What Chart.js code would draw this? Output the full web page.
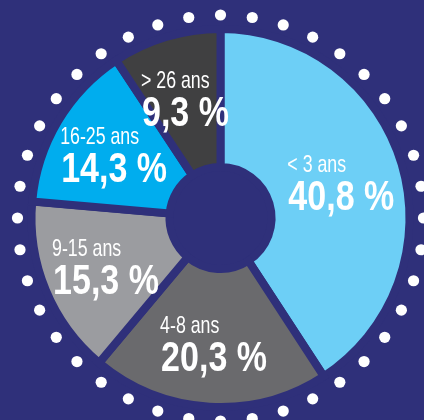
<!DOCTYPE html>
<html><head><meta charset="utf-8">
<script src="https://cdn.jsdelivr.net/npm/chart.js@4.4.1/dist/chart.umd.min.js"></script>
<style>
html,body{margin:0;padding:0;background:#2F307A;}
#wrap{width:424px;height:420px;position:relative;}
</style></head><body>
<div id="wrap"><canvas id="c"></canvas></div>
<script>
const categories = ['< 3 ans', '4-8 ans', '9-15 ans', '16-25 ans', '> 26 ans'];
const shares = [40.8, 20.3, 15.3, 14.3, 9.3];
const sliceColors = ['#6DCFF6', '#6A6A6D', '#9B9CA0', '#00ADEE', '#404041'];
const BG = '#2F307A';
const GAP = 8;
const DOT_COUNT = 40;

function fmt(v){ return v.toFixed(1).replace('.', ',') + ' %'; }

const ringDots = {
  id: 'ringDots',
  beforeDatasetsDraw(chart){
    const arc = chart.getDatasetMeta(0).data[0];
    if (!arc) return;
    const ctx = chart.ctx;
    const r = arc.outerRadius - GAP/2 + 18;
    ctx.save();
    ctx.fillStyle = '#FFFFFF';
    for (let i = 0; i < DOT_COUNT; i++){
      const a = -Math.PI/2 + i * 2*Math.PI/DOT_COUNT;
      ctx.beginPath();
      ctx.arc(arc.x + Math.cos(a)*r, arc.y + Math.sin(a)*r, 5.6, 0, 2*Math.PI);
      ctx.fill();
    }
    ctx.restore();
  }
};

function drawScaled(ctx, text, x, y, font, sx){
  ctx.save();
  ctx.font = font;
  ctx.translate(x, y);
  ctx.scale(sx, 1);
  ctx.fillText(text, 0, 0);
  ctx.restore();
}
function widthScaled(ctx, text, font, sx){
  ctx.save(); ctx.font = font; const w = ctx.measureText(text).width * sx; ctx.restore(); return w;
}

const sliceLabels = {
  id: 'sliceLabels',
  afterDatasetsDraw(chart){
    const ctx = chart.ctx;
    const meta = chart.getDatasetMeta(0);
    const smallFont = '24px "Liberation Sans", Arial, sans-serif';
    const bigFont = 'bold 42px "Liberation Sans", Arial, sans-serif';
    const sS = 0.74, sB = 0.81;
    ctx.save();
    ctx.fillStyle = '#FFFFFF';
    ctx.textAlign = 'left';
    ctx.textBaseline = 'alphabetic';
    meta.data.forEach((arc, i) => {
      const mid = (arc.startAngle + arc.endAngle) / 2;
      const R = (arc.innerRadius + arc.outerRadius) / 2 + 5;
      const cx = arc.x + Math.cos(mid) * R;
      const cy = arc.y + Math.sin(mid) * R;
      const t1 = categories[i];
      const t2 = fmt(shares[i]);
      const w = Math.max(widthScaled(ctx, t1, smallFont, sS), widthScaled(ctx, t2, bigFont, sB));
      const left = cx - w / 2;
      drawScaled(ctx, t1, left, cy - 10, smallFont, sS);
      drawScaled(ctx, t2, left + 1, cy + 28, bigFont, sB);
    });
    ctx.restore();
  }
};

new Chart(document.getElementById('c'), {
  type: 'doughnut',
  data: {
    labels: categories,
    datasets: [{
      data: shares,
      backgroundColor: sliceColors,
      borderColor: BG,
      borderWidth: GAP,
      borderAlign: 'center',
      borderJoinStyle: 'miter',
      hoverOffset: 0
    }]
  },
  options: {
    responsive: true,
    maintainAspectRatio: false,
    animation: false,
    events: [],
    cutout: '27%',
    rotation: 0,
    layout: { padding: { left: 27.5, right: 10.5, top: 25, bottom: 9 } },
    plugins: { legend: { display: false }, tooltip: { enabled: false } }
  },
  plugins: [ringDots, sliceLabels]
});
</script>
</body></html>
